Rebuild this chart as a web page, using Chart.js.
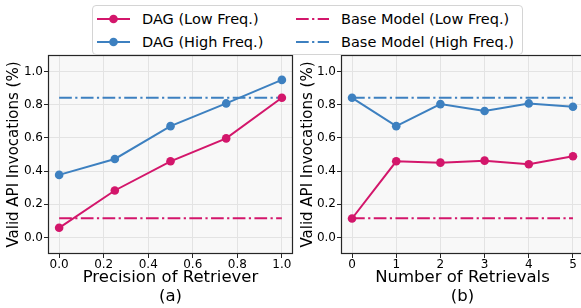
<!DOCTYPE html>
<html>
<head>
<meta charset="utf-8">
<script src="https://cdn.jsdelivr.net/npm/chart.js@4/dist/chart.umd.min.js"></script>
<style>
  html, body { margin: 0; padding: 0; background: #ffffff; overflow: hidden; width: 581px; height: 308px; }
  #wrap { position: relative; width: 581px; height: 308px; overflow: hidden; font-family: "DejaVu Sans", sans-serif; }
  .cbox { position: absolute; top: 0; height: 308px; }
  #legend { position: absolute; left: 92px; top: 5px; width: 429px; height: 48px; background: #fff;
            border: 1px solid #d4d4d4; border-radius: 4px; z-index: 5; font-size: 14.5px; color: #000; }
  .item { position: absolute; height: 20px; line-height: 20px; white-space: nowrap; }
  .item svg { position: absolute; left: 0; top: 5px; }
  .item span { position: absolute; left: 45px; top: 0; }
</style>
</head>
<body>
<div id="wrap">
  <div class="cbox" style="left:0px;width:300px;"><canvas id="c1"></canvas></div>
  <div class="cbox" style="left:294px;width:296px;"><canvas id="c2"></canvas></div>
  <div id="legend"></div>
</div>
<script>
// ---- data ----
const precision = [0, 0.25, 0.5, 0.75, 1.0];
const dagLowA  = [0.058, 0.283, 0.459, 0.597, 0.842];
const dagHighA = [0.377, 0.473, 0.671, 0.808, 0.950];

const retrievals = [0, 1, 2, 3, 4, 5];
const dagLowB  = [0.114, 0.459, 0.451, 0.463, 0.441, 0.489];
const dagHighB = [0.842, 0.671, 0.804, 0.762, 0.808, 0.788];

const baseLow  = [0.116, 0.116];
const baseHigh = [0.842, 0.842];
const baseSpanA = [0, 1];
const baseSpanB = [0, 5];

const yTicks  = [0.0, 0.2, 0.4, 0.6, 0.8, 1.0];
const xTicksA = [0.0, 0.2, 0.4, 0.6, 0.8, 1.0];
const xTicksB = [0, 1, 2, 3, 4, 5];

const seriesNames = ['DAG (Low Freq.)', 'DAG (High Freq.)', 'Base Model (Low Freq.)', 'Base Model (High Freq.)'];
const yTitle = 'Valid API Invocations (%)';
const xTitleA = ['Precision of Retriever', '(a)'];
const xTitleB = ['Number of Retrievals', '(b)'];

// ---- style ----
const PINK = '#d3166b';
const BLUE = '#3d80c0';
const DASHDOT = [12.7, 3.4, 2.2, 3.4];
const FONT = "'DejaVu Sans', sans-serif";

const pts = (xs, ys) => xs.map((x, i) => ({x: x, y: ys[i]}));

const framePlugin = {
  id: 'frame',
  beforeDraw(chart) {
    const {ctx, chartArea: a} = chart;
    ctx.save();
    ctx.fillStyle = '#f8f8f8';
    ctx.fillRect(a.left, a.top, a.right - a.left, a.bottom - a.top);
    ctx.restore();
  },
  afterDraw(chart) {
    const {ctx, chartArea: a} = chart;
    ctx.save();
    ctx.strokeStyle = '#262626';
    ctx.lineWidth = 1.2;
    ctx.strokeRect(Math.round(a.left) + 0.5, Math.round(a.top) + 0.5,
                   Math.round(a.right - a.left) - 1, Math.round(a.bottom - a.top) - 1);
    ctx.restore();
  }
};

function makeChart(id, xs, low, high, span, xmin, xmax, xTicks, xFmt, xTitle, yAxisW, padRight) {
  const ds = [
    {label: seriesNames[0], data: pts(xs, low), borderColor: PINK, backgroundColor: PINK,
     borderWidth: 2, pointRadius: 4.3, pointBorderWidth: 0, order: 1},
    {label: seriesNames[1], data: pts(xs, high), borderColor: BLUE, backgroundColor: BLUE,
     borderWidth: 2, pointRadius: 4.3, pointBorderWidth: 0, order: 2},
    {label: seriesNames[2], data: pts(span, baseLow), borderColor: PINK, borderDash: DASHDOT,
     borderWidth: 2, pointRadius: 0, borderCapStyle: 'butt', order: 3},
    {label: seriesNames[3], data: pts(span, baseHigh), borderColor: BLUE, borderDash: DASHDOT,
     borderWidth: 2, pointRadius: 0, borderCapStyle: 'butt', order: 4}
  ];
  return new Chart(document.getElementById(id), {
    type: 'line',
    data: {datasets: ds},
    plugins: [framePlugin],
    options: {
      responsive: true,
      maintainAspectRatio: false,
      animation: false,
      events: [],
      layout: {padding: {top: 55, right: padRight, left: 0, bottom: 0}},
      plugins: {legend: {display: false}, tooltip: {enabled: false}},
      elements: {line: {tension: 0}},
      scales: {
        x: {
          type: 'linear', min: xmin, max: xmax,
          afterBuildTicks: s => { s.ticks = xTicks.map(v => ({value: v})); },
          afterFit: s => { s.height = 54; },
          grid: {color: '#e3e3e3', lineWidth: 1, drawTicks: true, tickLength: 4, tickColor: '#262626'},
          border: {display: false},
          ticks: {color: '#000', font: {family: FONT, size: 12}, padding: 0, maxRotation: 0,
                  callback: v => xFmt(v)},
          title: {display: true, text: xTitle, color: '#000', font: {family: FONT, size: 16.5, lineHeight: 1.15},
                  padding: {top: 0, bottom: 1.5}}
        },
        y: {
          type: 'linear', min: -0.1, max: 1.1,
          afterBuildTicks: s => { s.ticks = yTicks.map(v => ({value: v})); },
          afterFit: s => { s.width = yAxisW; },
          grid: {color: '#e3e3e3', lineWidth: 1, drawTicks: true, tickLength: 4, tickColor: '#262626'},
          border: {display: false},
          ticks: {color: '#000', font: {family: FONT, size: 12}, padding: 1, callback: v => v.toFixed(1)},
          title: {display: true, text: yTitle, color: '#000', font: {family: FONT, size: 15, lineHeight: 1.2},
                  padding: {top: 5, bottom: 0}}
        }
      }
    }
  });
}

makeChart('c1', precision, dagLowA, dagHighA, baseSpanA, -0.05, 1.05, xTicksA, v => v.toFixed(1), xTitleA, 48, 7);
makeChart('c2', retrievals, dagLowB, dagHighB, baseSpanB, -0.25, 5.25, xTicksB, v => String(v), xTitleB, 47, 6);

// ---- legend (HTML) ----
const legendItems = [
  {name: seriesNames[0], color: PINK, dash: false, left: 4,   top: 3},
  {name: seriesNames[1], color: BLUE, dash: false, left: 4,   top: 26},
  {name: seriesNames[2], color: PINK, dash: true,  left: 203, top: 3},
  {name: seriesNames[3], color: BLUE, dash: true,  left: 203, top: 26}
];
const leg = document.getElementById('legend');
legendItems.forEach(it => {
  const d = document.createElement('div');
  d.className = 'item';
  d.style.left = it.left + 'px';
  d.style.top = it.top + 'px';
  const line = it.dash
    ? `<line x1="0" y1="5" x2="33" y2="5" stroke="${it.color}" stroke-width="2" stroke-dasharray="${DASHDOT.join(',')}"/>`
    : `<line x1="0" y1="5" x2="33" y2="5" stroke="${it.color}" stroke-width="2"/><circle cx="16.5" cy="5" r="4.3" fill="${it.color}"/>`;
  d.innerHTML = `<svg width="34" height="10">${line}</svg><span>${it.name}</span>`;
  leg.appendChild(d);
});
</script>
</body>
</html>
